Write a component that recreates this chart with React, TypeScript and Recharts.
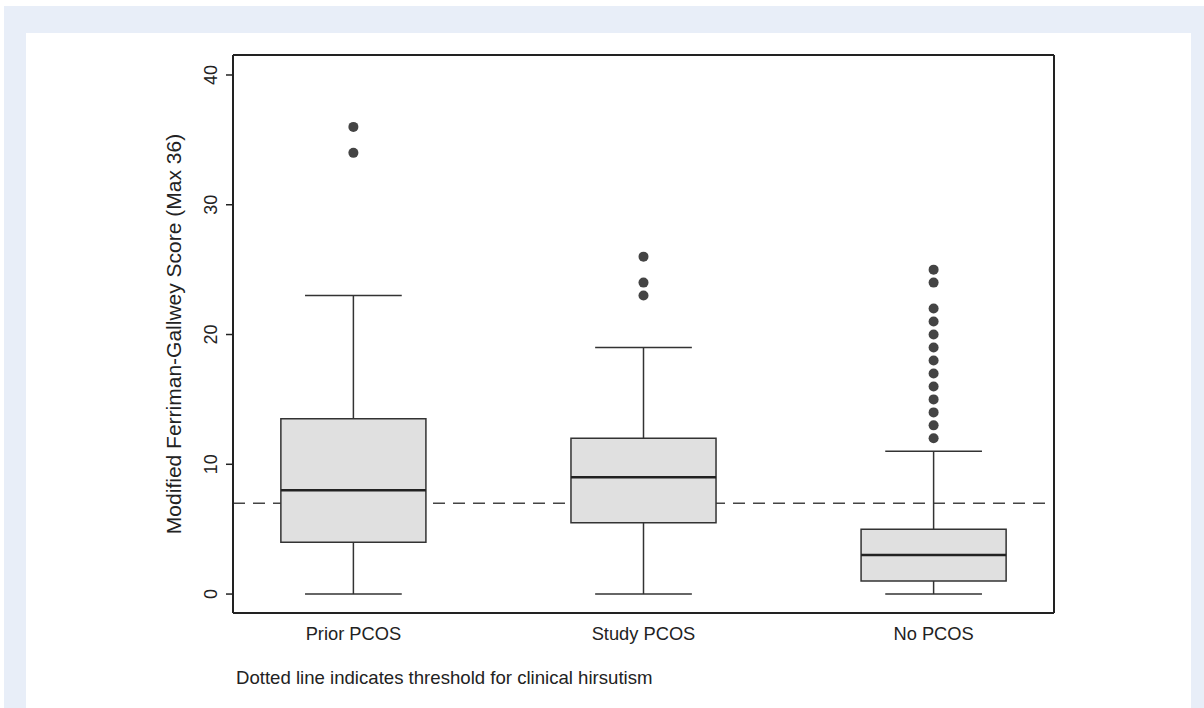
import React from 'react';
import { ComposedChart, XAxis, YAxis, ReferenceLine, ReferenceArea, Scatter } from 'recharts';

const categories = ['Prior PCOS', 'Study PCOS', 'No PCOS'];
const whiskerLow = [0, 0, 0];
const quartile1 = [4, 5.5, 1];
const medians = [8, 9, 3];
const quartile3 = [13.5, 12, 5];
const whiskerHigh = [23, 19, 11];
const outliersPrior = [34, 36];
const outliersStudy = [23, 24, 26];
const outliersNone = [12, 13, 14, 15, 16, 17, 18, 19, 20, 21, 22, 24, 25];
const threshold = 7;
const yTicks = [0, 10, 20, 30, 40];
const yTitle = 'Modified Ferriman-Gallwey Score (Max 36)';
const footnote = 'Dotted line indicates threshold for clinical hirsutism';

const FONT = '"Liberation Sans", Arial, Helvetica, sans-serif';
const INK = '#222';
const BOX_HALF = 0.25;
const CAP_HALF = 0.1667;
const X_DOMAIN: [number, number] = [0.585, 3.415];
const Y_DOMAIN: [number, number] = [-1.46, 41.54];

const positions = categories.map((_, i) => i + 1);
const outlierPoints = [outliersPrior, outliersStudy, outliersNone].flatMap((arr, i) =>
  arr.map((v) => ({ x: positions[i], y: v }))
);

const YTick = (props: any) => {
  const { x, y, payload } = props;
  return (
    <text
      x={0}
      y={0}
      transform={`translate(${x - 7},${y}) rotate(-90)`}
      textAnchor="middle"
      fontSize={18}
      fontFamily={FONT}
      fill={INK}
    >
      {payload.value}
    </text>
  );
};

const YTitle = (props: any) => {
  const vb = props.viewBox || { x: 0, y: 0, width: 0, height: 0 };
  const cx = vb.x + 8;
  const cy = vb.y + vb.height / 2;
  return (
    <text
      x={cx}
      y={cy}
      transform={`rotate(-90, ${cx}, ${cy})`}
      textAnchor="middle"
      fontSize={21}
      fontFamily={FONT}
      fill={INK}
    >
      {yTitle}
    </text>
  );
};

const Dot = (props: any) => <circle cx={props.cx} cy={props.cy} r={5} fill="#444" />;

export default function App() {
  const lineStyle = { stroke: '#333', strokeWidth: 1.5 };
  return (
    <div style={{ position: 'absolute', left: 0, top: 0, width: 1204, height: 708, background: '#fff', overflow: 'hidden' }}>
      <div style={{ position: 'absolute', left: 4, top: 6, width: 1200, height: 702, background: '#e8eef8' }} />
      <div style={{ position: 'absolute', left: 26, top: 33, width: 1165, height: 675, background: '#fff' }} />
      <div style={{ position: 'absolute', left: 0, top: 0 }}>
        <ComposedChart width={1204} height={708} margin={{ top: 54, right: 149, bottom: 55, left: 173 }}>
          <XAxis
            xAxisId={0}
            dataKey="x"
            type="number"
            domain={X_DOMAIN}
            ticks={positions}
            allowDataOverflow
            tickFormatter={(v: number) => categories[Math.round(v) - 1] ?? ''}
            tickLine={false}
            tickSize={6}
            tickMargin={8}
            height={40}
            axisLine={{ stroke: INK, strokeWidth: 2 }}
            tick={{ fontSize: 18.3, fontFamily: FONT, fill: INK }}
          />
          <XAxis
            xAxisId="top"
            orientation="top"
            type="number"
            domain={X_DOMAIN}
            allowDataOverflow
            height={1}
            tick={false}
            tickLine={false}
            axisLine={{ stroke: INK, strokeWidth: 2 }}
          />
          <YAxis
            yAxisId={0}
            type="number"
            domain={Y_DOMAIN}
            ticks={yTicks}
            allowDataOverflow
            width={60}
            tickSize={7}
            tickLine={{ stroke: INK, strokeWidth: 1.5 }}
            axisLine={{ stroke: INK, strokeWidth: 2 }}
            tick={<YTick />}
            label={{ value: yTitle, content: <YTitle /> }}
          />
          <YAxis
            yAxisId="right"
            orientation="right"
            type="number"
            domain={Y_DOMAIN}
            allowDataOverflow
            width={1}
            tick={false}
            tickLine={false}
            axisLine={{ stroke: INK, strokeWidth: 2 }}
          />
          <ReferenceLine y={threshold} stroke="#444" strokeWidth={1.5} strokeDasharray="12 8" zIndex={100} />
          {positions.map((p, i) => (
            <ReferenceArea
              key={`box-${i}`}
              x1={p - BOX_HALF}
              x2={p + BOX_HALF}
              y1={quartile1[i]}
              y2={quartile3[i]}
              fill="#e0e0e0"
              fillOpacity={1}
              stroke="#333"
              strokeWidth={1.5}
              zIndex={200}
            />
          ))}
          {positions.map((p, i) => (
            <ReferenceLine
              key={`wl-${i}`}
              segment={[{ x: p, y: whiskerLow[i] }, { x: p, y: quartile1[i] }]}
              {...lineStyle}
              zIndex={300}
            />
          ))}
          {positions.map((p, i) => (
            <ReferenceLine
              key={`wh-${i}`}
              segment={[{ x: p, y: quartile3[i] }, { x: p, y: whiskerHigh[i] }]}
              {...lineStyle}
              zIndex={300}
            />
          ))}
          {positions.map((p, i) => (
            <ReferenceLine
              key={`cl-${i}`}
              segment={[{ x: p - CAP_HALF, y: whiskerLow[i] }, { x: p + CAP_HALF, y: whiskerLow[i] }]}
              {...lineStyle}
              zIndex={300}
            />
          ))}
          {positions.map((p, i) => (
            <ReferenceLine
              key={`ch-${i}`}
              segment={[{ x: p - CAP_HALF, y: whiskerHigh[i] }, { x: p + CAP_HALF, y: whiskerHigh[i] }]}
              {...lineStyle}
              zIndex={300}
            />
          ))}
          {positions.map((p, i) => (
            <ReferenceLine
              key={`md-${i}`}
              segment={[{ x: p - BOX_HALF, y: medians[i] }, { x: p + BOX_HALF, y: medians[i] }]}
              stroke="#222"
              strokeWidth={2.5}
              zIndex={300}
            />
          ))}
          <Scatter data={outlierPoints} dataKey="y" shape={<Dot />} isAnimationActive={false} />
        </ComposedChart>
      </div>
      <div
        style={{
          position: 'absolute',
          left: 236,
          top: 668,
          fontSize: 18.6,
          lineHeight: '20px',
          fontFamily: FONT,
          color: INK,
          whiteSpace: 'nowrap',
        }}
      >
        {footnote}
      </div>
    </div>
  );
}
